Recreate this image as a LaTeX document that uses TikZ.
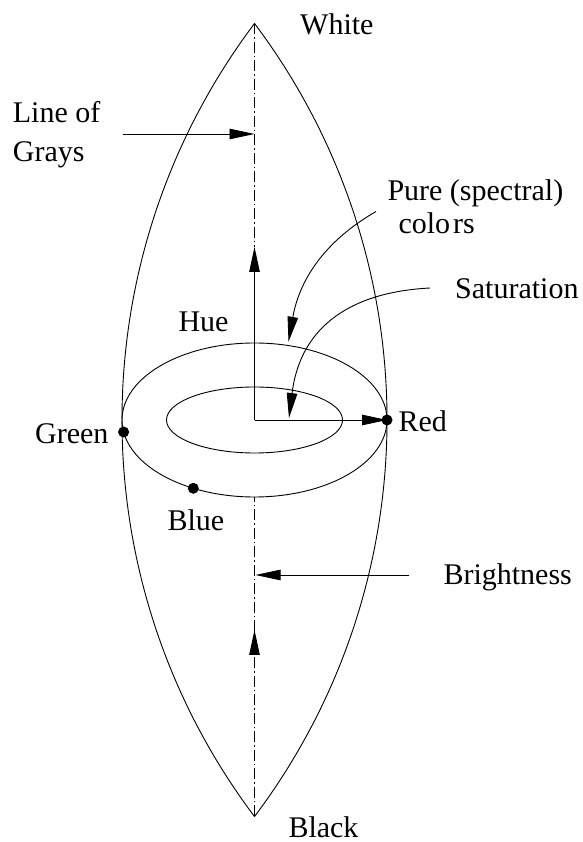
\documentclass[tikz,border=0pt]{standalone}
\usepackage{fontspec}
\setmainfont{Liberation Serif}
\usetikzlibrary{arrows.meta}
\begin{document}
\begin{tikzpicture}[x=1pt,y=1pt,
  lbl/.style={anchor=base west, inner sep=0pt, font=\fontsize{30}{36}\selectfont},
  outl/.style={line width=0.9pt},
  axisline/.style={line width=0.9pt, dash pattern=on 11pt off 3pt on 1.5pt off 3pt},
  tipped/.style={-{Triangle[length=25pt,width=10.5pt]}},
  dot/.style={circle, fill=black, inner sep=0pt, minimum size=11pt}]
\fill[white] (0,0) rectangle (582,842);
\useasboundingbox (0,0) rectangle (582,842);
% key points
\coordinate (top) at (254.5,818.5);
\coordinate (bot) at (254.5,25.5);
\coordinate (c) at (254.5,422);
\coordinate (hueTip) at (254.5,595);
\coordinate (ebot) at (254.5,345);
\coordinate (lowTip) at (254.5,212);
\coordinate (lgStart) at (123,708);
\coordinate (lgEnd) at (254.5,708);
\coordinate (brStart) at (409,267);
\coordinate (brEnd) at (255.5,267);
\coordinate (puStart) at (376,630.5);
\coordinate (puEnd) at (288.5,500.3);
\coordinate (saStart) at (430,554);
\coordinate (saEnd) at (289,424);
% lens outline
\draw[outl] (top) arc[start angle=143.04, end angle=216.96, radius=659.5pt];
\draw[outl] (top) arc[start angle=36.96, end angle=-36.96, radius=659.5pt];
% hue ellipses
\draw[outl] (c) ellipse[x radius=132.5pt, y radius=77pt];
\draw[outl] (c) ellipse[x radius=88pt, y radius=33pt];
% axis of grays
\draw[axisline] (top) -- (hueTip);
\draw[outl,tipped] (c) -- (hueTip);
\draw[axisline] (bot) -- (ebot);
\draw[axisline,tipped] (bot) -- (lowTip);
% dots
\node[dot] (red) at (387,422) {};
\path (c) ++(188.97:132.5 and 77) node[dot] (green) {};
\path (c) ++(-117.5:132.5 and 77) node[dot] (blue) {};
\draw[outl,tipped] (c) -- (red.center);
% pointer arrows
\draw[outl,tipped] (lgStart) -- (lgEnd);
\draw[outl,tipped] (brStart) -- (brEnd);
\draw[outl,tipped] (puStart) to[out=210,in=80] (puEnd);
\draw[outl,tipped] (saStart) to[out=183,in=83,looseness=1.15] (saEnd);
% labels
\node[lbl] (tWhite) at (300,807) {White};
\node[lbl] (tLine) at (12.7,719) {Line of};
\node[lbl] (tGrays) at (12.7,680) {Grays};
\node[lbl] (tPure) at (387.3,641.3) {Pure (spectral)};
\node[lbl] (tColors) at (398.3,608.7) {colo\kern3pt rs};
\node[lbl] (tSat) at (455,543) {Saturation};
\node[lbl] (tHue) at (178.3,510.3) {Hue};
\node[lbl] (tGreen) at (35,398.7) {Green};
\node[lbl] (tRed) at (398.3,410.3) {Red};
\node[lbl] (tBlue) at (167.3,311) {Blue};
\node[lbl] (tBright) at (443.3,257) {Brightness};
\node[lbl] (tBlack) at (288.3,5) {Black};
\end{tikzpicture}
\end{document}
